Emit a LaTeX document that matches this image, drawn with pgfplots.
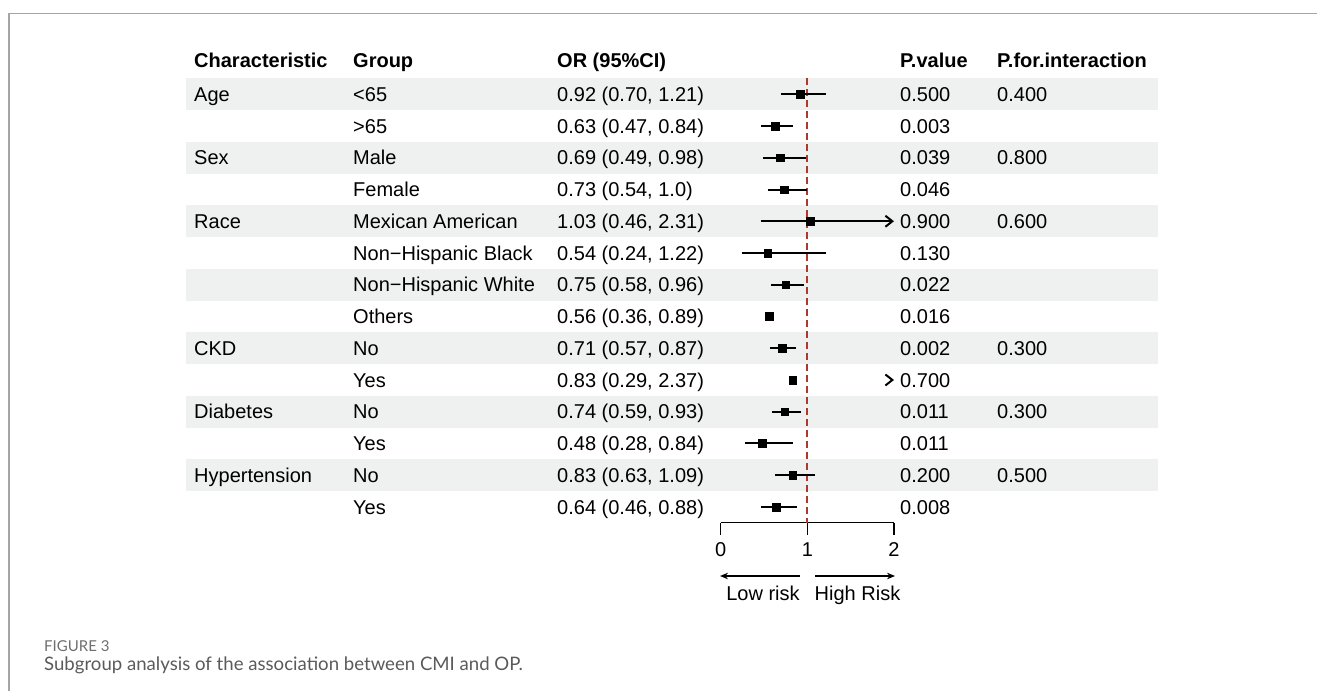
\documentclass[border=0pt]{standalone}
\usepackage{pgfplots}
\pgfplotsset{compat=1.18}
\usepackage{pgfplotstable}
\usepackage{fontspec}
\setmainfont{Liberation Sans}
\newfontfamily\capfont{Lato}
\usetikzlibrary{arrows.meta}
\definecolor{stripe}{RGB}{238,241,240}
\definecolor{refred}{RGB}{172,56,46}
\definecolor{framegray}{RGB}{165,165,165}
\definecolor{capgray}{RGB}{90,90,90}
\definecolor{figgray}{RGB}{110,110,110}

\pgfplotstableread{
row or
1 0.92
2 0.63
3 0.69
4 0.73
5 1.03
6 0.54
7 0.75
8 0.56
9 0.71
10 0.83
11 0.74
12 0.48
13 0.83
14 0.64
}\ordata

\newcommand\trow[6]{%
  \pgfmathsetmacro\yy{94.3+(#1-1)*31.74+7.2}%
  \node[anchor=base west] at (194,\yy) {#2};%
  \node[anchor=base west] at (353,\yy) {#3};%
  \node[anchor=base west] at (557,\yy) {#4};%
  \node[anchor=base west] at (900,\yy) {#5};%
  \node[anchor=base west] at (997,\yy) {#6};%
}

\begin{document}
\begin{tikzpicture}
\begin{scope}[x=1pt,y=-1pt,every node/.style={inner sep=0pt,font=\fontsize{20}{24}\selectfont}]
\path[use as bounding box] (0,0) rectangle (1317,691);
% frame
\draw[framegray,line width=1.3pt] (9,691) -- (9,13.3) -- (1317,13.3);
% stripes
\foreach \i in {1,3,5,7,9,11,13}{
  \fill[stripe] (186,{94.3+(\i-1)*31.74-15.87}) rectangle (1158,{94.3+(\i-1)*31.74+15.87});
}
% header
\begin{scope}[every node/.append style={font=\fontsize{20}{24}\selectfont\bfseries}]
\node[anchor=base west] at (194,67.9) {Characteristic};
\node[anchor=base west] at (353,67.9) {Group};
\node[anchor=base west] at (557,67.9) {OR (95\%CI)};
\node[anchor=base west] at (900,67.9) {P.value};
\node[anchor=base west] at (997,67.9) {P.for.interaction};
\end{scope}
\trow{1}{Age}{<65}{0.92 (0.70, 1.21)}{0.500}{0.400}
\trow{2}{}{>65}{0.63 (0.47, 0.84)}{0.003}{}
\trow{3}{Sex}{Male}{0.69 (0.49, 0.98)}{0.039}{0.800}
\trow{4}{}{Female}{0.73 (0.54, 1.0)}{0.046}{}
\trow{5}{Race}{Mexican American}{1.03 (0.46, 2.31)}{0.900}{0.600}
\trow{6}{}{Non−Hispanic Black}{0.54 (0.24, 1.22)}{0.130}{}
\trow{7}{}{Non−Hispanic White}{0.75 (0.58, 0.96)}{0.022}{}
\trow{8}{}{Others}{0.56 (0.36, 0.89)}{0.016}{}
\trow{9}{CKD}{No}{0.71 (0.57, 0.87)}{0.002}{0.300}
\trow{10}{}{Yes}{0.83 (0.29, 2.37)}{0.700}{}
\trow{11}{Diabetes}{No}{0.74 (0.59, 0.93)}{0.011}{0.300}
\trow{12}{}{Yes}{0.48 (0.28, 0.84)}{0.011}{}
\trow{13}{Hypertension}{No}{0.83 (0.63, 1.09)}{0.200}{0.500}
\trow{14}{}{Yes}{0.64 (0.46, 0.88)}{0.008}{}
% risk arrows
\draw[line width=1.5pt, -{Stealth[length=8pt,width=6.5pt]}] (800,576) -- (720,576);
\draw[line width=1.5pt, -{Stealth[length=8pt,width=6.5pt]}] (815,576) -- (895,576);
\node[anchor=base] at (763,600) {Low risk};
\node[anchor=base] at (857.5,600) {High Risk};
% caption
\node[anchor=base west, font=\fontsize{15}{18}\capfont, text=figgray] at (44,651.7) {FIGURE 3};
\node[anchor=base west, font=\fontsize{18.6}{22}\capfont, text=capgray] at (44,670.7) {Subgroup analysis of the association between CMI and OP.};
\end{scope}

\begin{axis}[
  at={(720.7pt,-522.8pt)}, anchor=south west,
  scale only axis, width=173.3pt, height=444.4pt,
  xmin=0, xmax=2, ymin=0.5, ymax=14.5, y dir=reverse,
  axis x line*=bottom, axis y line=none,
  xtick={0,1,2}, tick align=outside, major tick length=12pt,
  x axis line style={line width=1.3pt, black},
  every tick/.style={line width=1.3pt, black},
  xticklabel style={font=\fontsize{20}{24}\selectfont, inner sep=0pt, anchor=north, yshift=-8pt},
  /pgf/number format/assume math mode=true,
  clip=false,
]
\addplot[refred, line width=2pt, dash pattern=on 7pt off 4pt] coordinates {(1,0.5) (1,14.5)};
\addplot[black, line width=2pt] coordinates {(0.70,1) (1.21,1)};
\addplot[black, line width=2pt] coordinates {(0.47,2) (0.84,2)};
\addplot[black, line width=2pt] coordinates {(0.49,3) (0.98,3)};
\addplot[black, line width=2pt] coordinates {(0.54,4) (1.00,4)};
\addplot[black, line width=2pt, -{Straight Barb[length=7pt,width=11pt,line width=2pt]}] coordinates {(0.46,5) (2.0,5)};
\addplot[black, line width=2pt] coordinates {(0.24,6) (1.22,6)};
\addplot[black, line width=2pt] coordinates {(0.58,7) (0.96,7)};
\addplot[black, line width=2pt] coordinates {(0.57,9) (0.87,9)};
\addplot[black, line width=1.2pt, -{Straight Barb[length=7pt,width=11pt,line width=2pt]}] coordinates {(1.985,10) (2.0,10)};
\addplot[black, line width=2pt] coordinates {(0.59,11) (0.93,11)};
\addplot[black, line width=2pt] coordinates {(0.28,12) (0.84,12)};
\addplot[black, line width=2pt] coordinates {(0.63,13) (1.09,13)};
\addplot[black, line width=2pt] coordinates {(0.46,14) (0.88,14)};
\addplot[only marks, mark=square*, mark size=3.8pt, black] table[x=or, y=row] {\ordata};
\end{axis}
\end{tikzpicture}
\end{document}
